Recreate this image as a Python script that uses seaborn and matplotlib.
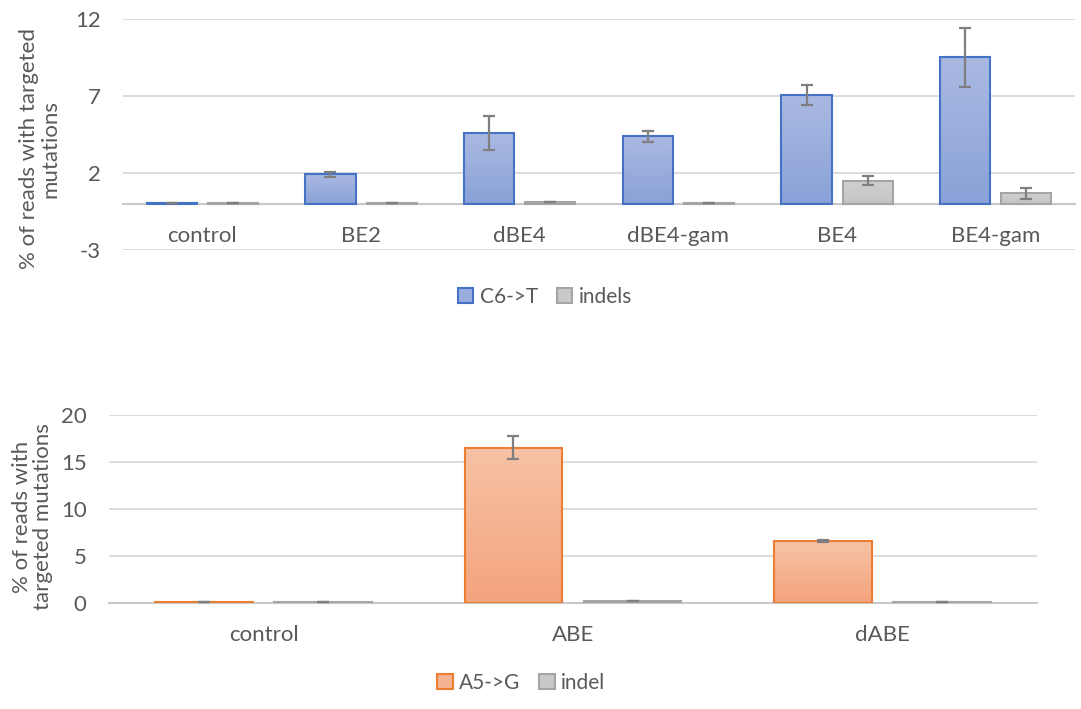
import numpy as np
import pandas as pd
import matplotlib
matplotlib.use("Agg")
import matplotlib.pyplot as plt
import matplotlib.colors as mcolors
from matplotlib.patches import Patch
import seaborn as sns

# Top panel: cytosine base editors
be_groups = ["control", "BE2", "dBE4", "dBE4-gam", "BE4", "BE4-gam"]
c6t_mean = [0.05, 1.92, 4.62, 4.40, 7.08, 9.53]
c6t_err = [0.0, 0.18, 1.10, 0.37, 0.65, 1.90]
be_indels_mean = [0.05, 0.05, 0.15, 0.03, 1.52, 0.70]
be_indels_err = [0.0, 0.0, 0.0, 0.0, 0.28, 0.36]

# Bottom panel: adenine base editors
abe_groups = ["control", "ABE", "dABE"]
a5g_mean = [0.10, 16.49, 6.55]
a5g_err = [0.0, 1.20, 0.10]
abe_indel_mean = [0.10, 0.20, 0.07]
abe_indel_err = [0.0, 0.0, 0.0]

TXT = "#595959"
GRID = "#d9d9d9"

sns.set_theme(style="white")
plt.rcParams["font.family"] = ["Lato", "DejaVu Sans"]
plt.rcParams["axes.unicode_minus"] = False


def gradient_bars(ax, container, top_col, bot_col):
    cmap = mcolors.LinearSegmentedColormap.from_list("g", [bot_col, top_col])
    grad = np.linspace(0, 1, 64).reshape(-1, 1)
    for p in container.patches:
        x0, y0 = p.get_x(), p.get_y()
        w, h = p.get_width(), p.get_height()
        if h <= 0:
            continue
        im = ax.imshow(grad, cmap=cmap, origin="lower", aspect="auto",
                       extent=(x0, x0 + w, y0, y0 + h), zorder=p.get_zorder() - 0.1)
        im.set_clip_path(p)
        p.set_facecolor("none")


def draw_panel(ax, groups, s1, e1, s2, e2, names, cols, edges, grads):
    df = pd.DataFrame({
        "group": groups * 2,
        "value": s1 + s2,
        "series": [names[0]] * len(groups) + [names[1]] * len(groups),
    })
    sns.barplot(data=df, x="group", y="value", hue="series", ax=ax,
                palette=cols, width=0.77, gap=0.18, errorbar=None,
                linewidth=1.5, legend=False)
    for cont, ec in zip(ax.containers, edges):
        for p in cont.patches:
            p.set_edgecolor(ec)
            p.set_zorder(3)
    for cont, (tc, bc) in zip(ax.containers, grads):
        gradient_bars(ax, cont, tc, bc)
    for cont, m, e in zip(ax.containers, [s1, s2], [e1, e2]):
        xs = [p.get_x() + p.get_width() / 2 for p in cont.patches]
        ax.errorbar(xs, m, yerr=e, fmt="none", ecolor="#7f7f7f",
                    elinewidth=1.6, capsize=4, capthick=1.6, zorder=4)
    ax.set_xlabel("")
    ax.yaxis.grid(True, color=GRID, linewidth=1.3)
    ax.set_axisbelow(True)
    for s in ["top", "right", "left"]:
        ax.spines[s].set_visible(False)
    ax.spines["bottom"].set_position(("data", 0))
    ax.spines["bottom"].set_color("#c8c8c8")
    ax.spines["bottom"].set_linewidth(1.5)
    ax.spines["bottom"].set_zorder(2)
    ax.tick_params(axis="x", length=0, pad=16, labelsize=16, labelcolor=TXT)
    ax.tick_params(axis="y", length=0, pad=16, labelsize=16, labelcolor=TXT)
    ax.set_xlim(-0.5, len(groups) - 0.5)


fig = plt.figure(figsize=(10.81, 7.09), dpi=100)
ax1 = fig.add_axes([0.1138, 0.6474, 0.8807, 0.3251])
ax2 = fig.add_axes([0.1008, 0.1495, 0.8585, 0.2656])

draw_panel(ax1, be_groups, c6t_mean, c6t_err, be_indels_mean, be_indels_err,
           ["C6->T", "indels"], ["#9aace0", "#c9c9c9"], ["#4472c4", "#a5a5a5"],
           [("#aab9e2", "#8aa2d8"), ("#d0d0d0", "#c4c4c4")])
ax1.set_ylim(-3, 12)
ax1.set_yticks([-3, 2, 7, 12])
ax1.set_ylabel("% of reads with targeted\nmutations", fontsize=16, color=TXT,
               linespacing=1.1)
ax1.yaxis.set_label_coords(-0.066, 0.44)

draw_panel(ax2, abe_groups, a5g_mean, a5g_err, abe_indel_mean, abe_indel_err,
           ["A5->G", "indel"], ["#f5b292", "#c9c9c9"], ["#ed7d31", "#a5a5a5"],
           [("#f7c2a5", "#f4a47d"), ("#d0d0d0", "#c4c4c4")])
ax2.set_ylim(0, 20)
ax2.set_yticks([0, 5, 10, 15, 20])
ax2.set_ylabel("% of reads with\ntargeted mutations", fontsize=16, color=TXT,
               linespacing=1.1)
ax2.yaxis.set_label_coords(-0.060, 0.457)

leg_kw = dict(loc="center", ncol=2, frameon=False, fontsize=15, handlelength=0.75,
              handleheight=0.75, handletextpad=0.3, columnspacing=0.9, labelcolor=TXT)
h1 = [Patch(facecolor="#9aace0", edgecolor="#4472c4", linewidth=1.5, label="C6->T"),
      Patch(facecolor="#c9c9c9", edgecolor="#a5a5a5", linewidth=1.5, label="indels")]
fig.legend(handles=h1, bbox_to_anchor=(0.504, 0.581), **leg_kw)
h2 = [Patch(facecolor="#f5b292", edgecolor="#ed7d31", linewidth=1.5, label="A5->G"),
      Patch(facecolor="#c9c9c9", edgecolor="#a5a5a5", linewidth=1.5, label="indel")]
fig.legend(handles=h2, bbox_to_anchor=(0.482, 0.0367), **leg_kw)

fig.savefig("out.png", dpi=100)
